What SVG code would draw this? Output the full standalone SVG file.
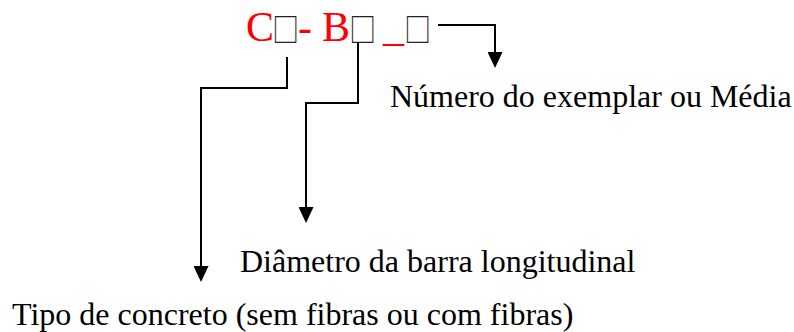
<svg xmlns="http://www.w3.org/2000/svg" width="794" height="332" viewBox="0 0 794 332">
  <style>
    .code { font-family: "Liberation Serif", "Times New Roman", serif; font-size: 42px; fill: #ff0000; }
    .box { font-family: "Noto Sans CJK SC", "DejaVu Sans", sans-serif; font-size: 33px; fill: #222222; text-anchor: middle; }
    .label { font-family: "Liberation Serif", "Times New Roman", serif; font-size: 32px; fill: #000000; }
    .wire { fill: none; stroke: #000000; stroke-width: 2; stroke-linejoin: miter; marker-end: url(#head); }
  </style>
  <defs>
    <marker id="head" viewBox="0 0 16 15" refX="8" refY="7.5" markerWidth="16" markerHeight="15" markerUnits="userSpaceOnUse" orient="auto">
      <path d="M0,0 L16,7.5 L0,15 Z" fill="#000000"/>
    </marker>
  </defs>

  <!-- specimen code: red letters, placeholder boxes in black -->
  <g id="code">
    <text class="code" y="41">
      <tspan x="246">C</tspan><tspan x="298">-</tspan><tspan x="322">B</tspan><tspan x="383">_</tspan>
    </text>
    <text class="box" transform="translate(285.5,42) scale(0.81,1)">□</text>
    <text class="box" transform="translate(362.5,42) scale(0.81,1)">□</text>
    <text class="box" transform="translate(417.5,42) scale(0.81,1)">□</text>
  </g>

  <!-- field descriptions -->
  <g id="numero">
    <text class="label" x="390" y="107">Número do exemplar ou Média</text>
  </g>
  <g id="diametro">
    <text class="label" x="240" y="272">Diâmetro da barra longitudinal</text>
  </g>
  <g id="tipo">
    <text class="label" x="12" y="325">Tipo de concreto (sem fibras ou com fibras)</text>
  </g>

  <!-- leader lines -->
  <g id="connectors">
    <path class="wire" d="M287,57 V88 H201 V274"/>
    <path class="wire" d="M358,43 V103 H306 V215"/>
    <path class="wire" d="M438,25 H495 V60"/>
  </g>
</svg>
